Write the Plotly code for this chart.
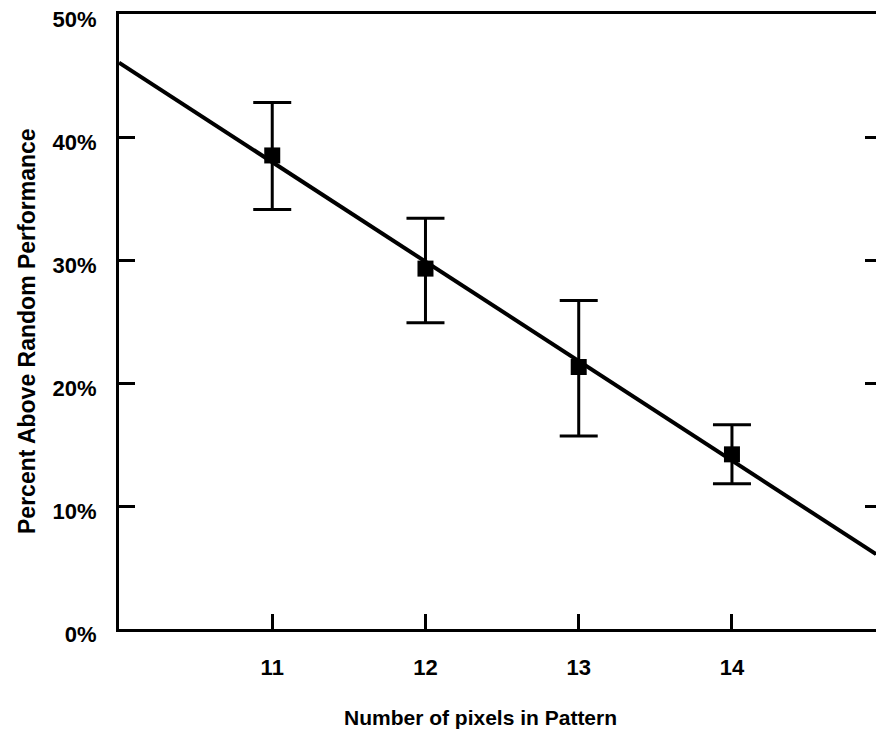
import numpy as np
import plotly.graph_objects as go

# Data
pixels = [11, 12, 13, 14]
mean_pct = [38.5, 29.3, 21.3, 14.2]
upper_pct = [42.8, 33.4, 26.7, 16.6]
lower_pct = [34.1, 24.9, 15.7, 11.8]

x_ticks = [11, 12, 13, 14]
y_ticks = [0, 10, 20, 30, 40, 50]
y_tick_text = ["0%", "10%", "20%", "30%", "40%", "50%"]

x_range = [10, 14.94]
y_range = [0, 50]

# least-squares trend line through the means
slope, intercept = np.polyfit(pixels, mean_pct, 1)
trend_x = np.array(x_range)
trend_y = slope * trend_x + intercept

err_plus = [u - m for u, m in zip(upper_pct, mean_pct)]
err_minus = [m - l for m, l in zip(mean_pct, lower_pct)]

FONT = "Liberation Sans, Arial, Helvetica, sans-serif"

fig = go.Figure()

fig.add_trace(go.Scatter(
    x=trend_x, y=trend_y, mode="lines",
    line=dict(color="black", width=4),
    yaxis="y2", showlegend=False, hoverinfo="skip",
))

fig.add_trace(go.Scatter(
    x=pixels, y=mean_pct, mode="markers",
    marker=dict(symbol="square", size=16, color="black"),
    error_y=dict(type="data", array=err_plus, arrayminus=err_minus,
                 color="black", thickness=3, width=19, symmetric=False),
    showlegend=False,
))

fig.update_layout(
    width=868, height=722,
    margin=dict(l=111, r=0, t=6, b=101, autoexpand=False),
    paper_bgcolor="white", plot_bgcolor="white",
    font=dict(family=FONT, color="black"),
    xaxis=dict(
        range=x_range, tickvals=x_ticks, ticktext=[str(v) for v in x_ticks],
        showgrid=False, zeroline=False, automargin=False,
        showline=True, linecolor="black", linewidth=3, mirror=True,
        ticks="inside", ticklen=15, tickwidth=3, tickcolor="black",
        tickfont=dict(family=FONT, size=22, color="black", weight="bold"),
        ticklabelstandoff=17, ticklabeloverflow="allow",
    ),
    yaxis=dict(
        range=y_range, tickvals=y_ticks, ticktext=y_tick_text,
        showgrid=False, zeroline=False, automargin=False,
        showline=True, linecolor="black", linewidth=3, mirror=False,
        ticks="inside", ticklen=16, tickwidth=3, tickcolor="black",
        tickfont=dict(family=FONT, size=22, color="black", weight="bold"),
        ticklabelstandoff=15, ticklabelshift=5, ticklabeloverflow="allow",
    ),
    yaxis2=dict(
        overlaying="y", side="right", matches="y", automargin=False,
        range=y_range, tickvals=y_ticks,
        showticklabels=False, showgrid=False, zeroline=False, showline=False,
        ticks="inside", ticklen=11, tickwidth=3, tickcolor="black",
    ),
    annotations=[
        dict(text="<b>Percent Above Random Performance</b>", textangle=-90,
             xref="paper", yref="paper", x=-0.1215, y=0.4846,
             xanchor="center", yanchor="middle", showarrow=False,
             font=dict(family=FONT, size=23, color="black")),
        dict(text="<b>Number of pixels in Pattern</b>",
             xref="paper", yref="paper", x=0.4769, y=-0.1447,
             xanchor="center", yanchor="middle", showarrow=False,
             font=dict(family=FONT, size=21, color="black")),
    ],
)

fig.write_html("out.html")
